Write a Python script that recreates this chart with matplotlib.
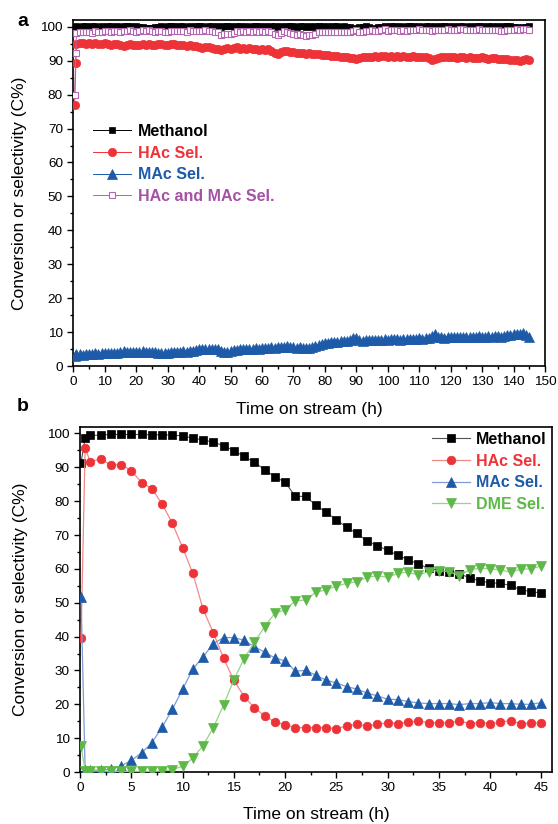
import numpy as np
import matplotlib
matplotlib.use("Agg")
import matplotlib.pyplot as plt
from matplotlib.ticker import MultipleLocator

plt.rcParams['font.family'] = ['Liberation Sans', 'DejaVu Sans']

# ---------------- Panel a data ----------------
hours_a = np.concatenate([[0.4, 0.8], np.arange(1, 146)])

methanol_a = [99.9, 100.0,
    100.1, 100.0, 100.2, 100.1, 100.0, 100.1, 100.2, 100.0, 100.1, 100.0,
    100.1, 100.2, 100.0, 100.1, 100.0, 100.1, 100.2, 100.1, 100.0, 100.1,
    100.0, 99.8, 99.7, 99.6, 99.7, 99.9, 100.0, 100.1, 100.0, 100.1,
    100.2, 100.1, 100.0, 100.1, 100.2, 100.0, 100.1, 100.0, 100.1, 100.2,
    100.1, 100.0, 100.1, 100.2, 100.0, 100.1, 100.0, 100.1, 100.2, 100.1,
    100.0, 100.1, 100.2, 100.0, 100.1, 100.0, 100.1, 100.2, 100.1, 100.0,
    100.1, 100.0, 100.1, 100.2, 100.0, 100.1, 100.0, 100.1, 100.2, 100.1,
    100.0, 100.1, 100.2, 100.0, 100.1, 100.0, 100.1, 100.2, 100.1, 100.0,
    100.1, 100.0, 100.1, 100.2, 100.0, 100.1, 100.0, 99.8, 99.6, 99.5,
    99.8, 100.0, 100.1, 100.0, 99.7, 99.5, 99.8, 100.0, 100.1, 100.0,
    100.1, 100.2, 100.0, 100.1, 100.0, 100.1, 100.2, 100.1, 100.0, 100.1,
    100.0, 100.1, 100.2, 100.0, 100.1, 100.0, 100.1, 100.2, 100.1, 100.0,
    100.1, 100.0, 100.1, 100.2, 100.0, 100.1, 100.0, 100.1, 100.2, 100.1,
    100.0, 100.1, 100.2, 100.0, 100.1, 100.0, 100.1, 100.2, 100.1, 100.0,
    99.8, 99.6, 99.8, 100.0, 100.1]

hac_a = [77.0, 89.3,
    94.8, 95.2, 95.3, 95.0, 95.1, 94.9, 95.2, 95.0, 94.8, 95.1,
    94.9, 94.7, 95.0, 94.8, 94.6, 94.4, 94.7, 94.9, 94.6, 94.5,
    94.7, 94.8, 94.6, 94.9, 94.7, 94.5, 94.8, 95.0, 94.7, 94.6,
    94.9, 94.8, 94.6, 94.7, 94.5, 94.3, 94.6, 94.4, 94.2, 94.0,
    93.8, 94.1, 93.9, 93.7, 93.4, 93.6, 93.3, 93.6, 93.8, 93.5,
    93.7, 93.9, 93.6, 93.8, 93.5, 93.7, 93.4, 93.6, 93.3, 93.5,
    93.2, 93.4, 93.0, 92.4, 92.0, 92.6, 93.0, 92.8, 92.6, 92.5,
    92.3, 92.4, 92.2, 92.1, 92.3, 92.0, 91.9, 92.1, 91.8, 91.7,
    91.6, 91.5, 91.4, 91.3, 91.2, 91.0, 91.1, 90.9, 90.7, 90.6,
    90.9, 91.1, 91.2, 91.0, 91.2, 91.3, 91.1, 91.3, 91.4, 91.2,
    91.3, 91.1, 91.4, 91.2, 91.3, 91.0, 91.2, 91.3, 91.1, 91.2,
    91.0, 91.1, 90.8, 90.3, 90.4, 90.9, 91.1, 91.0, 91.2, 91.0,
    91.1, 90.9, 91.0, 91.2, 90.8, 91.0, 90.9, 90.7, 90.9, 91.0,
    90.8, 90.6, 90.8, 90.7, 90.5, 90.6, 90.4, 90.5, 90.3, 90.2,
    90.1, 90.0, 90.2, 90.4, 90.3]

mac_a = [3.0, 3.2,
    3.4, 3.5, 3.3, 3.6, 3.5, 3.4, 3.7, 3.6, 3.8, 3.7,
    3.8, 3.9, 3.7, 3.9, 4.0, 4.3, 4.0, 4.1, 4.2, 4.0,
    4.2, 4.3, 4.1, 4.2, 4.0, 4.1, 3.9, 3.8, 3.7, 3.9,
    4.0, 4.1, 4.2, 4.1, 4.3, 4.2, 4.4, 4.5, 4.7, 4.9,
    5.0, 5.1, 4.9, 5.0, 5.1, 4.9, 4.3, 4.2, 4.1, 4.3,
    4.6, 4.8, 4.9, 5.0, 4.9, 5.0, 5.1, 5.2, 5.1, 5.3,
    5.4, 5.3, 5.5, 5.4, 5.5, 5.6, 5.7, 5.8, 5.6, 5.5,
    5.4, 5.5, 5.4, 5.3, 5.4, 5.6, 6.0, 6.3, 6.6, 6.8,
    6.9, 7.0, 7.1, 7.2, 7.3, 7.4, 7.5, 7.6, 8.2, 8.4,
    7.6, 7.4, 7.6, 7.7, 7.8, 7.6, 7.7, 7.8, 7.9, 7.7,
    7.9, 8.0, 7.9, 7.8, 7.9, 8.0, 8.1, 8.0, 8.1, 8.2,
    8.1, 8.2, 8.3, 8.8, 9.4, 8.7, 8.5, 8.4, 8.5, 8.6,
    8.5, 8.6, 8.7, 8.6, 8.5, 8.7, 8.6, 8.7, 8.8, 8.7,
    8.6, 8.8, 8.7, 8.8, 8.9, 8.7, 8.8, 9.0, 9.2, 9.3,
    9.5, 9.4, 9.6, 9.2, 8.6]

hac_mac_a = [80.0, 92.2,
    98.2, 98.5, 98.6, 98.4, 98.6, 98.3, 98.7, 98.5, 98.6, 98.8,
    98.7, 98.6, 98.7, 98.7, 98.6, 98.7, 98.7, 99.0, 98.8, 98.5,
    98.9, 99.1, 98.7, 99.1, 98.7, 98.6, 98.7, 98.8, 98.4, 98.5,
    98.9, 98.9, 98.8, 98.8, 98.8, 98.5, 99.0, 98.9, 98.9, 98.9,
    98.8, 99.2, 98.8, 98.7, 98.5, 98.5, 97.6, 97.8, 97.9, 97.8,
    98.3, 98.7, 98.5, 98.8, 98.4, 98.7, 98.5, 98.8, 98.4, 98.8,
    98.6, 98.7, 98.5, 97.8, 97.5, 98.2, 98.7, 98.6, 98.2, 98.0,
    97.7, 97.9, 97.6, 97.4, 97.7, 97.6, 97.9, 98.4, 98.4, 98.5,
    98.5, 98.5, 98.5, 98.5, 98.5, 98.4, 98.6, 98.5, 98.9, 99.0,
    98.5, 98.5, 98.8, 98.7, 99.0, 98.9, 98.8, 99.1, 99.3, 98.9,
    99.1, 99.0, 99.2, 98.9, 99.1, 98.9, 99.2, 99.2, 99.1, 99.3,
    99.0, 99.2, 99.0, 98.9, 99.1, 99.2, 99.2, 99.1, 99.3, 99.2,
    99.2, 99.1, 99.3, 99.3, 99.0, 99.2, 99.1, 99.2, 99.3, 99.2,
    99.0, 99.1, 99.2, 99.1, 99.0, 98.9, 98.9, 99.1, 99.2, 99.1,
    99.3, 99.1, 99.4, 99.3, 99.2]

# ---------------- Panel b data ----------------
hours_b = np.concatenate([[0.1, 0.5], np.arange(1, 46)])

methanol_b = [91.4, 98.6, 99.4, 99.5, 99.7, 99.7, 99.7, 99.7, 99.6, 99.6, 99.5,
              99.3, 98.6, 98.1, 97.4, 96.4, 94.9, 93.2, 91.5, 89.3, 87.2,
              85.6, 81.4, 81.4, 78.8, 76.7, 74.5, 72.3, 70.5, 68.2, 66.8,
              65.5, 64.0, 62.7, 61.4, 60.2, 59.5, 59.0, 58.5, 57.4, 56.4,
              55.9, 55.7, 55.1, 53.8, 53.3, 52.8]

hac_b = [39.5, 95.7, 91.6, 92.5, 90.7, 90.8, 89.0, 85.5, 83.7, 79.2, 73.5,
         66.3, 58.7, 48.1, 41.1, 33.6, 27.1, 22.3, 19.0, 16.6, 14.8,
         14.0, 13.1, 13.1, 13.1, 13.1, 12.8, 13.6, 14.1, 13.6, 14.1,
         14.5, 14.3, 14.7, 15.0, 14.6, 14.5, 14.5, 15.1, 14.3, 14.6,
         14.3, 14.7, 15.2, 14.2, 14.5, 14.4]

mac_b = [51.6, 0.5, 0.5, 0.6, 0.8, 1.8, 3.4, 5.6, 8.6, 13.2, 18.5,
         24.4, 30.4, 34.0, 37.9, 39.7, 39.7, 38.9, 37.0, 35.4, 33.7,
         32.8, 29.8, 30.0, 28.6, 27.1, 26.3, 25.2, 24.5, 23.3, 22.5,
         21.5, 21.4, 20.8, 20.4, 20.2, 20.2, 20.2, 19.9, 20.2, 20.2,
         20.5, 20.2, 20.2, 20.0, 20.0, 20.5]

dme_b = [7.6, 0.4, 0.3, 0.3, 0.2, 0.2, 0.2, 0.2, 0.2, 0.3, 0.7,
         1.7, 4.1, 7.8, 13.1, 19.8, 27.2, 33.5, 38.3, 42.9, 46.9,
         47.9, 50.6, 50.8, 53.1, 53.8, 54.9, 55.7, 56.2, 57.5, 58.0,
         57.5, 58.7, 59.0, 58.2, 59.2, 59.5, 59.2, 58.0, 59.7, 60.2,
         60.0, 59.7, 59.0, 59.9, 60.0, 60.9]

labels_a = ["Methanol", "HAc Sel.", "MAc Sel.", "HAc and MAc Sel."]
labels_b = ["Methanol", "HAc Sel.", "MAc Sel.", "DME Sel."]

BLACK = "#000000"
RED = "#EE3338"
BLUE = "#1D5BA8"
PURPLE = "#B466B3"
PURPLE_TXT = "#A552A6"
GREEN = "#5DB947"

fig = plt.figure(figsize=(5.58, 8.24), dpi=100)

TICK_FS = 9.7
LABEL_FS = 12.5
LEG_FS = 11.5


def style_axes(ax):
    for s in ax.spines.values():
        s.set_linewidth(1.2)
    ax.tick_params(which='both', direction='out', top=False, right=False,
                   labelsize=TICK_FS, width=1.0)
    ax.tick_params(which='major', length=4)
    ax.tick_params(which='minor', length=2.5)


# ---------------- Panel a ----------------
axa = fig.add_axes([0.1314, 0.5558, 0.8453, 0.4199])
axa.plot(hours_a, methanol_a, color=BLACK, lw=0.7, marker='s', ms=5.0,
         mfc=BLACK, mec=BLACK, mew=0.5, label=labels_a[0], zorder=3)
axa.plot(hours_a, hac_a, color=RED, lw=0.7, marker='o', ms=6.0,
         mfc=RED, mec=RED, mew=0.5, label=labels_a[1], zorder=3)
axa.plot(hours_a, mac_a, color=BLUE, lw=0.7, marker='^', ms=6.5,
         mfc=BLUE, mec=BLUE, mew=0.5, label=labels_a[2], zorder=3)
axa.plot(hours_a, hac_mac_a, color=PURPLE, lw=0.7, marker='s', ms=4.4,
         mfc='white', mec=PURPLE, mew=0.8, label=labels_a[3], zorder=4)
axa.set_xlim(0, 150)
axa.set_ylim(0, 102)
axa.xaxis.set_major_locator(MultipleLocator(10))
axa.xaxis.set_minor_locator(MultipleLocator(5))
axa.yaxis.set_major_locator(MultipleLocator(10))
axa.yaxis.set_minor_locator(MultipleLocator(5))
style_axes(axa)
axa.set_xlabel("Time on stream (h)", fontsize=LABEL_FS)
axa.set_ylabel("Conversion or selectivity (C%)", fontsize=LABEL_FS)
axa.xaxis.set_label_coords(0.5, -0.104)
axa.yaxis.set_label_coords(-0.098, 0.5)
leg_a = axa.legend(loc='upper left', bbox_to_anchor=(0.042, 0.70), frameon=False,
                   prop={'weight': 'bold', 'size': LEG_FS}, handlelength=2.4,
                   handletextpad=0.4, labelspacing=0.42, borderpad=0, borderaxespad=0)
for txt, col in zip(leg_a.get_texts(), [BLACK, RED, BLUE, PURPLE_TXT]):
    txt.set_color(col)

# ---------------- Panel b ----------------
axb = fig.add_axes([0.1434, 0.0631, 0.8453, 0.4191])
axb.plot(hours_b, methanol_b, color="#555555", lw=0.8, marker='s', ms=5.3,
         mfc=BLACK, mec=BLACK, mew=0.5, label=labels_b[0], zorder=3)
axb.plot(hours_b, hac_b, color="#F08A86", lw=0.9, marker='o', ms=6.2,
         mfc=RED, mec=RED, mew=0.5, label=labels_b[1], zorder=3)
axb.plot(hours_b, mac_b, color="#7F9BD0", lw=0.9, marker='^', ms=7.5,
         mfc=BLUE, mec=BLUE, mew=0.5, label=labels_b[2], zorder=3)
axb.plot(hours_b, dme_b, color="#98D38A", lw=0.9, marker='v', ms=7.5,
         mfc=GREEN, mec=GREEN, mew=0.5, label=labels_b[3], zorder=3)
axb.set_xlim(0, 46)
axb.set_ylim(0, 102)
axb.xaxis.set_major_locator(MultipleLocator(5))
axb.xaxis.set_minor_locator(MultipleLocator(2.5))
axb.yaxis.set_major_locator(MultipleLocator(10))
axb.yaxis.set_minor_locator(MultipleLocator(5))
style_axes(axb)
axb.set_xlabel("Time on stream (h)", fontsize=LABEL_FS)
axb.set_ylabel("Conversion or selectivity (C%)", fontsize=LABEL_FS)
axb.xaxis.set_label_coords(0.5, -0.101)
axb.yaxis.set_label_coords(-0.111, 0.5)
leg_b = axb.legend(loc='upper right', bbox_to_anchor=(0.99, 0.985), frameon=False,
                   prop={'weight': 'bold', 'size': LEG_FS}, handlelength=2.4,
                   handletextpad=0.4, labelspacing=0.42, borderpad=0, borderaxespad=0)
for txt, col in zip(leg_b.get_texts(), [BLACK, RED, BLUE, GREEN]):
    txt.set_color(col)

fig.text(0.041, 0.9745, "a", fontsize=14, fontweight='bold', ha='center', va='center')
fig.text(0.041, 0.507, "b", fontsize=14, fontweight='bold', ha='center', va='center')

fig.savefig("out.png", dpi=100)
